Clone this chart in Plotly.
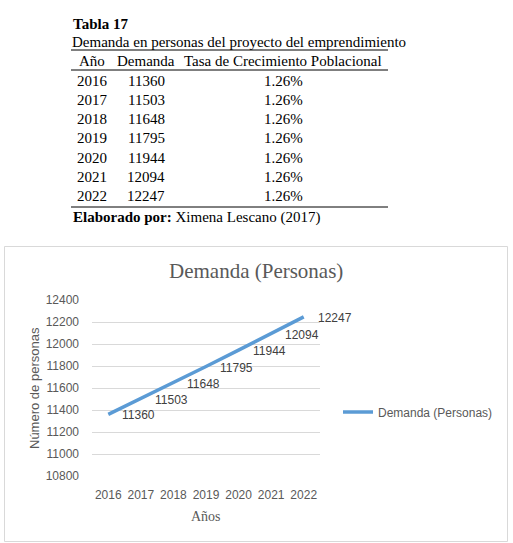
import plotly.graph_objects as go

# ---- data ----
years = ["2016", "2017", "2018", "2019", "2020", "2021", "2022"]
demanda = [11360, 11503, 11648, 11795, 11944, 12094, 12247]
tasa = ["1.26%"] * 7
table_headers = ["Año", "Demanda", "Tasa de Crecimiento Poblacional"]
series_name = "Demanda (Personas)"
y_ticks = [10800, 11000, 11200, 11400, 11600, 11800, 12000, 12200, 12400]

W, H = 513, 543
PL, PR, PT, PB = 92, 320, 300, 476


def px(x):
    return (x - PL) / (PR - PL)


def py(y):
    return (PB - y) / (PB - PT)


SERIF = "Liberation Serif, Times New Roman, serif"
SANS = "Liberation Sans, Arial, sans-serif"

fig = go.Figure()
fig.add_trace(go.Scatter(
    x=years, y=demanda, mode="lines", name=series_name,
    line=dict(color="#5B9BD5", width=3.5),
))

ann = []
# data labels (category index positions on the x axis)
for i, v in enumerate(demanda):
    ann.append(dict(x=i, y=v, xref="x", yref="y", text=str(v), showarrow=False,
                    xanchor="left", yanchor="middle", xshift=12, yshift=-1,
                    font=dict(family=SANS, size=12, color="#404040")))

# table
TF = 15
ann.append(dict(x=px(71), y=py(24), xref="paper", yref="paper", text="<b>Tabla 17</b>",
                showarrow=False, xanchor="left", yanchor="middle",
                font=dict(family=SERIF, size=TF, color="black")))
ann.append(dict(x=px(70), y=py(42), xref="paper", yref="paper",
                text="Demanda en personas del proyecto del emprendimiento",
                showarrow=False, xanchor="left", yanchor="middle",
                font=dict(family=SERIF, size=TF, color="black")))
col_x = [92, 146, 283]
for cx, h in zip(col_x, table_headers):
    ann.append(dict(x=px(cx), y=py(61), xref="paper", yref="paper", text=h,
                    showarrow=False, xanchor="center", yanchor="middle",
                    font=dict(family=SERIF, size=TF, color="black")))
for i, (yr, v, t) in enumerate(zip(years, demanda, tasa)):
    ry = 80.5 + i * 19.3
    for cx, txt in zip(col_x, [yr, str(v), t]):
        ann.append(dict(x=px(cx), y=py(ry), xref="paper", yref="paper", text=txt,
                        showarrow=False, xanchor="center", yanchor="middle",
                        font=dict(family=SERIF, size=TF, color="black")))
ann.append(dict(x=px(71), y=py(217), xref="paper", yref="paper",
                text="<b>Elaborado por:</b> Ximena Lescano (2017)",
                showarrow=False, xanchor="left", yanchor="middle",
                font=dict(family=SERIF, size=TF, color="black")))

# chart title & axis titles
ann.append(dict(x=px(256), y=py(271), xref="paper", yref="paper", text="Demanda (Personas)",
                showarrow=False, xanchor="center", yanchor="middle",
                font=dict(family=SERIF, size=21, color="#595959")))
ann.append(dict(x=px(206), y=py(516), xref="paper", yref="paper", text="Años",
                showarrow=False, xanchor="center", yanchor="middle",
                font=dict(family=SERIF, size=14, color="#595959")))
ann.append(dict(x=px(34), y=py(388), xref="paper", yref="paper", text="Número de personas",
                showarrow=False, xanchor="center", yanchor="middle", textangle=-90,
                font=dict(family=SANS, size=13, color="#595959")))

shapes = []
for ly in [50, 70, 207]:
    shapes.append(dict(type="line", xref="paper", yref="paper",
                       x0=px(71), x1=px(388), y0=py(ly), y1=py(ly),
                       line=dict(color="black", width=1)))
shapes.append(dict(type="rect", xref="paper", yref="paper",
                   x0=px(4.5), x1=px(507.5), y0=py(246.5), y1=py(541.5),
                   line=dict(color="#D9D9D9", width=1)))

fig.update_layout(
    width=W, height=H, autosize=False,
    margin=dict(l=PL, r=W - PR, t=PT, b=H - PB, pad=0),
    paper_bgcolor="white", plot_bgcolor="white",
    annotations=ann, shapes=shapes,
    showlegend=True,
    legend=dict(x=px(338), y=py(412), xanchor="left", yanchor="middle",
                font=dict(family=SANS, size=12, color="#595959"),
                bgcolor="rgba(0,0,0,0)", itemwidth=30),
    xaxis=dict(type="category", range=[-0.5, 6.5], showgrid=False, zeroline=False,
               showline=False, ticks="", tickfont=dict(family=SANS, size=12, color="#595959"),
               ticklabelstandoff=10, fixedrange=True),
    yaxis=dict(range=[10800, 12400], tickvals=y_ticks, tickformat="d", showgrid=True,
               gridcolor="#D9D9D9", gridwidth=1, zeroline=False, showline=False, ticks="",
               tickfont=dict(family=SANS, size=12, color="#595959"),
               ticklabelstandoff=12, fixedrange=True),
)

fig.write_html("out.html")
